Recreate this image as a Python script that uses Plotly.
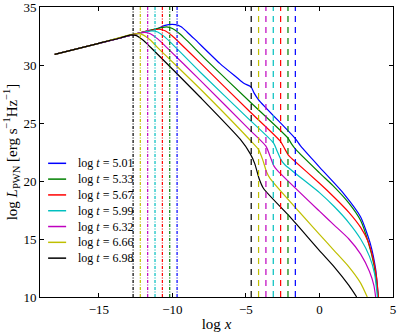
import plotly.graph_objects as go

# labels and colours of the seven curves (log t)
labels = ["5.01", "5.33", "5.67", "5.99", "6.32", "6.66", "6.98"]
colors = ["#0000ff", "#008000", "#ff0000", "#00bfbf", "#bf00bf", "#bfbf00", "#000000"]

# vertical marker positions (log x)
x_dashdot = [-9.68, -10.18, -10.68, -11.18, -11.68, -12.18, -12.67]
x_dashed = [-1.64, -2.14, -2.64, -3.14, -3.64, -4.14, -4.64]

# curves
x_blue = [-18, -15, -12.67, -11.0, -10.5, -9.8, -9.4, -9.0, -8.5, -6.76, -5.6, -5.17, -4.8, -4.64, -4.45, -4.14,
          -1.64, -1.3, -0.5, 0.0, 1.66, 2.8, 3.48, 3.82, 4.0]
y_blue = [30.92, 31.87, 32.62, 33.15, 33.42, 33.48, 33.3, 32.85, 32.25, 30.12, 28.9, 28.45, 28.22, 28.1, 27.6, 27.0,
          23.65, 23.05, 21.9, 21.2, 18.9, 16.9, 14.5, 12.4, 10.0]

x_green = [-18, -15, -12.67, -11.2, -10.4, -10.0, -9.5, -9.0, -7.67, -4.71, -2.14, -1.9, -1.6, 0.0, 1.0, 2.0, 2.8,
           3.3, 3.7, 4.0]
y_green = [30.92, 31.87, 32.62, 33.09, 33.28, 33.15, 32.7, 32.1, 30.4, 26.81, 23.7, 23.2, 22.7, 20.7, 19.5, 18.1, 16.6,
           14.8, 12.8, 10.0]

x_red = [-18, -15, -12.67, -11.8, -10.9, -10.5, -10.0, -9.5, -8.12, -4.71, -2.64, -2.35, -2.1, -1.85, 0.0, 1.0, 2.0,
         2.8, 3.3, 3.7, 3.9, 4.0]
y_red = [30.92, 31.87, 32.62, 32.9, 33.08, 32.95, 32.5, 31.9, 30.2, 25.95, 23.4, 22.75, 22.2, 21.9, 19.8, 18.6, 17.3,
         16.0, 14.8, 13.0, 11.5, 10.0]

x_cyan = [-18, -15, -12.67, -11.4, -11.0, -10.5, -10.0, -8.12, -4.71, -3.14, -2.85, -2.6, -2.35, 0.0, 1.0, 2.0, 2.8,
          3.4, 3.75, 3.94]
y_cyan = [30.92, 31.87, 32.62, 32.95, 32.85, 32.4, 31.8, 29.4, 25.23, 23.3, 22.5, 21.8, 21.4, 19.0, 17.8, 16.4, 15.0,
          13.5, 12.0, 10.0]

x_magenta = [-18, -15, -12.67, -11.9, -11.5, -11.0, -10.5, -8.12, -4.71, -3.64, -3.35, -3.1, -2.85, 0.0, 1.0, 2.0,
             2.8, 3.4, 3.7, 3.82]
y_magenta = [30.92, 31.87, 32.62, 32.82, 32.7, 32.25, 31.65, 28.7, 24.37, 23.0, 22.1, 21.3, 20.9, 17.4, 16.2, 15.0,
             13.7, 12.2, 11.0, 10.0]

x_yellow = [-18, -15, -13.2, -12.4, -12.0, -11.5, -11.0, -8.12, -4.71, -4.14, -3.85, -3.6, -3.35, 0.0, 1.0, 2.0,
            2.8, 3.25]
y_yellow = [30.92, 31.87, 32.5, 32.7, 32.6, 32.15, 31.5, 27.95, 23.51, 22.7, 21.8, 20.8, 20.2, 15.4, 14.0, 12.6,
            11.2, 10.0]

x_black = [-18, -15, -13.5, -12.9, -12.5, -12.0, -11.5, -8.12, -5.39, -4.71, -4.4, -4.1, -3.8, -2.0, 0.0, 1.0, 2.0,
           2.53]
y_black = [30.92, 31.87, 32.35, 32.58, 32.55, 32.15, 31.55, 27.24, 23.6, 22.36, 21.5, 20.2, 19.35, 16.9, 14.0, 12.6,
           11.0, 10.0]

curves_x = [x_blue, x_green, x_red, x_cyan, x_magenta, x_yellow, x_black]
curves_y = [y_blue, y_green, y_red, y_cyan, y_magenta, y_yellow, y_black]

FONT = "Liberation Serif"

fig = go.Figure()

for i in range(7):
    fig.add_trace(go.Scatter(
        x=curves_x[i], y=curves_y[i], mode="lines",
        line=dict(color=colors[i], width=1.2, shape="spline", smoothing=0.6),
        name="log <i>t</i> = " + labels[i], showlegend=False))

# vertical markers
for i in range(7):
    fig.add_trace(go.Scatter(x=[x_dashdot[i], x_dashdot[i]], y=[10, 35], mode="lines",
                             line=dict(color=colors[i], width=1.2, dash="3px,1.5px,1px,1.5px"),
                             showlegend=False, hoverinfo="skip"))
    fig.add_trace(go.Scatter(x=[x_dashed[i], x_dashed[i]], y=[10, 35], mode="lines",
                             line=dict(color=colors[i], width=1.2, dash="6px,5px"),
                             showlegend=False, hoverinfo="skip"))

# legend drawn by hand (matplotlib-style compact spacing)
leg_top = 0.461
leg_step = 0.0545
for i in range(7):
    yy = leg_top - i * leg_step
    fig.add_shape(type="line", xref="paper", yref="paper", x0=0.023, x1=0.074, y0=yy, y1=yy,
                  line=dict(color=colors[i], width=1.5))
    fig.add_annotation(xref="paper", yref="paper", x=0.103, y=yy, xanchor="left", yanchor="middle",
                       text="log <i>t</i> = " + labels[i], showarrow=False,
                       font=dict(family=FONT, size=12, color="black"))

axis_common = dict(showgrid=False, zeroline=False, showline=True, linecolor="black", linewidth=1,
                   mirror="ticks", ticks="inside", ticklen=4, tickcolor="black", automargin=False,
                   ticklabeloverflow="allow",
                   tickfont=dict(family=FONT, size=13, color="black"))

fig.update_layout(
    width=399, height=332,
    margin=dict(l=40, r=6, t=7, b=35),
    plot_bgcolor="white", paper_bgcolor="white",
    font=dict(family=FONT, color="black"),
    showlegend=False,
    xaxis=dict(range=[-19, 5], tickvals=[-15, -10, -5, 0, 5],
               title=dict(text="log <i>x</i>", font=dict(family=FONT, size=15), standoff=4),
               **axis_common),
    yaxis=dict(range=[10, 35], tickvals=[10, 15, 20, 25, 30, 35],
               title=dict(text="log <i>L</i><sub>PWN</sub> [erg s<sup>\u22121</sup>Hz<sup>\u22121</sup>]",
                          font=dict(family=FONT, size=15), standoff=2),
               **axis_common),
)

fig.write_html("out.html", config={"displayModeBar": False},
               post_script="document.body.style.margin='0px';")
